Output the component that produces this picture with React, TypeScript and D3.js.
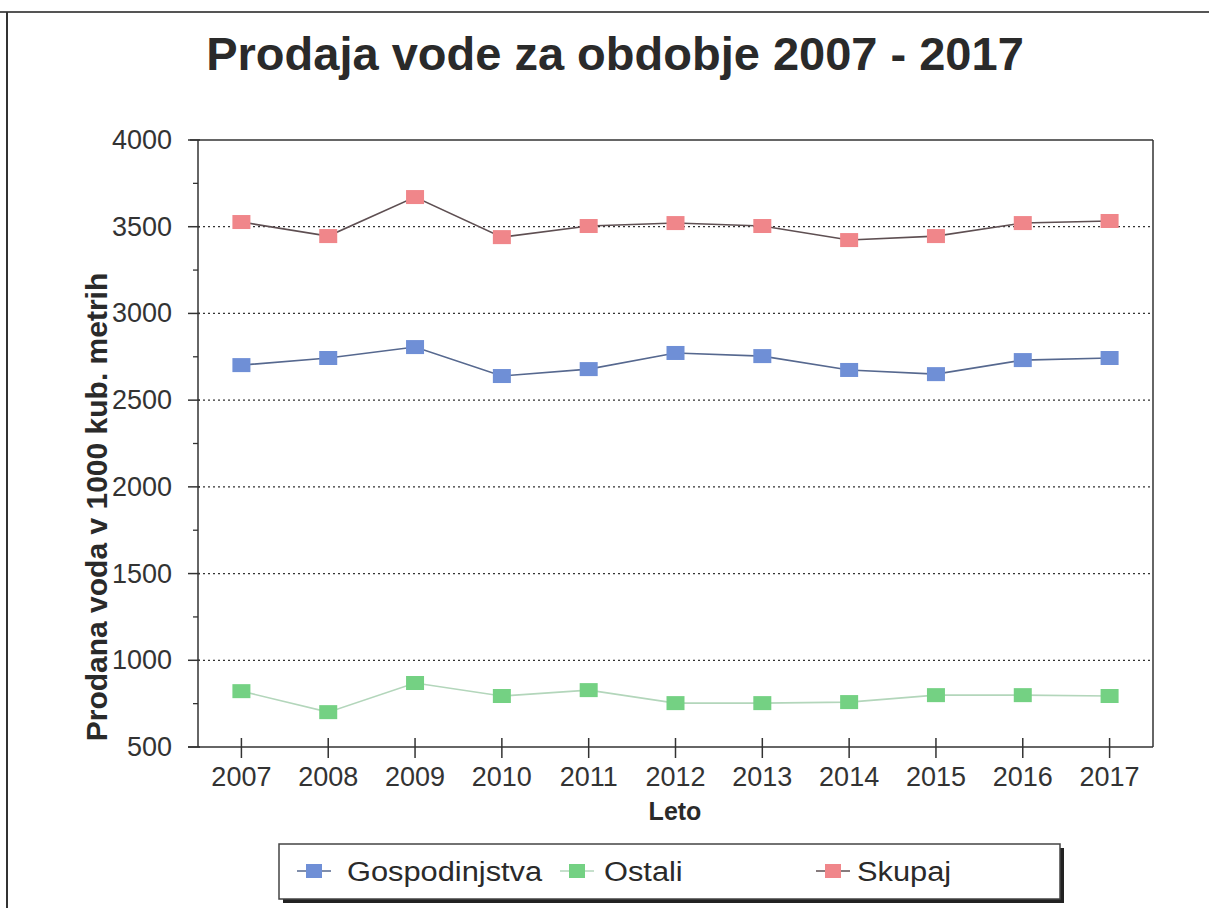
import React from "react";
import * as d3 from "d3";

const years = ["2007","2008","2009","2010","2011","2012","2013","2014","2015","2016","2017"];
const gospodinjstva = [2702, 2743, 2806, 2639, 2679, 2772, 2754, 2674, 2650, 2731, 2743];
const ostali = [822, 701, 869, 794, 828, 753, 753, 759, 799, 799, 794];
const skupaj = [3527, 3446, 3671, 3440, 3504, 3521, 3504, 3423, 3446, 3521, 3533];
const yTicks = [500, 1000, 1500, 2000, 2500, 3000, 3500, 4000];
const yMinor = [750, 1250, 1750, 2250, 2750, 3250, 3750];
const seriesNames = ["Gospodinjstva", "Ostali", "Skupaj"];

const W = 1209, H = 908;
const L = 198, R = 1153, T = 140, B = 747;
const FONT = "'Liberation Sans', Arial, sans-serif";

const series = [
  { name: seriesNames[0], values: gospodinjstva, fill: "#6f8fd6", stroke: "#56688f" },
  { name: seriesNames[1], values: ostali, fill: "#74d183", stroke: "#b3d6bb" },
  { name: seriesNames[2], values: skupaj, fill: "#f0868a", stroke: "#5e4f52" },
];

export default function App() {
  const x = d3.scalePoint<string>().domain(years).range([L, R]).padding(0.5);
  const y = d3.scaleLinear().domain([500, 4000]).range([B, T]);
  const line = d3.line<number>().x((_, i) => x(years[i])!).y((d) => y(d));
  const mw = 18, mh = 14;

  const legendItems = [
    { s: series[0], mx: 314, tx: 347 },
    { s: series[1], mx: 577, tx: 604 },
    { s: series[2], mx: 833, tx: 857 },
  ];

  return (
    <svg width={W} height={H} style={{ position: "absolute", left: 0, top: 0, background: "#fff" }} fontFamily={FONT}>
      <rect x={0} y={0} width={W} height={H} fill="#fff" />
      {/* outer frame */}
      <line x1={0} x2={W} y1={12} y2={12} stroke="#555" strokeWidth={2} />
      <line x1={7} x2={7} y1={12} y2={H} stroke="#333" strokeWidth={2} />

      {/* title */}
      <text x={615} y={70} textAnchor="middle" fontSize={47} fontWeight="bold" fill="#2a2a2a">
        Prodaja vode za obdobje 2007 - 2017
      </text>

      {/* grid */}
      {yTicks.filter((t) => t > 500 && t < 4000).map((t) => (
        <line key={t} x1={L} x2={R} y1={y(t)} y2={y(t)} stroke="#333" strokeWidth={1.3} strokeDasharray="2,3" />
      ))}

      {/* plot frame */}
      <line x1={L - 8} x2={R} y1={T} y2={T} stroke="#333" strokeWidth={1.5} />
      <line x1={R} x2={R} y1={T} y2={B} stroke="#333" strokeWidth={1.5} />
      <line x1={L} x2={L} y1={T} y2={B} stroke="#333" strokeWidth={1.5} />
      <line x1={L - 10} x2={R} y1={B} y2={B} stroke="#333" strokeWidth={1.5} />

      {/* y ticks */}
      {yTicks.map((t) => (
        <g key={t}>
          <line x1={L - 10} x2={L + 2} y1={y(t)} y2={y(t)} stroke="#333" strokeWidth={1.5} />
          <text x={172} y={y(t) + 9} textAnchor="end" fontSize={27} fill="#333">{t}</text>
        </g>
      ))}
      {yMinor.map((t) => (
        <line key={t} x1={L - 5} x2={L} y1={y(t)} y2={y(t)} stroke="#333" strokeWidth={1.3} />
      ))}

      {/* x ticks */}
      {years.map((yr) => (
        <g key={yr}>
          <line x1={x(yr)} x2={x(yr)} y1={B - 9} y2={B + 11} stroke="#333" strokeWidth={1.5} />
          <text x={x(yr)} y={786} textAnchor="middle" fontSize={27} fill="#333">{yr}</text>
        </g>
      ))}

      {/* axis titles */}
      <text x={675} y={820} textAnchor="middle" fontSize={25} fontWeight="bold" fill="#2a2a2a">Leto</text>
      <text transform={`translate(107,507) rotate(-90)`} textAnchor="middle" fontSize={30} fontWeight="bold" fill="#2a2a2a">
        Prodana voda v 1000 kub. metrih
      </text>

      {/* series */}
      {series.map((s) => (
        <g key={s.name}>
          <path d={line(s.values) || ""} fill="none" stroke={s.stroke} strokeWidth={1.6} />
          {s.values.map((v, i) => (
            <rect key={i} x={x(years[i])! - mw / 2} y={y(v) - mh / 2} width={mw} height={mh} fill={s.fill} />
          ))}
        </g>
      ))}

      {/* legend */}
      <rect x={283} y={848} width={781} height={55} fill="#222" />
      <rect x={279} y={844} width={781} height={55} fill="#fff" stroke="#444" strokeWidth={1.5} />
      {legendItems.map(({ s, mx, tx }) => (
        <g key={s.name}>
          <line x1={mx - 17} x2={mx + 17} y1={871} y2={871} stroke={s.stroke} strokeWidth={1.5} />
          <rect x={mx - 8} y={864} width={16} height={14} fill={s.fill} />
          <text transform={`translate(${tx},881) scale(1.1,1)`} fontSize={28} fill="#2a2a2a">{s.name}</text>
        </g>
      ))}
    </svg>
  );
}
